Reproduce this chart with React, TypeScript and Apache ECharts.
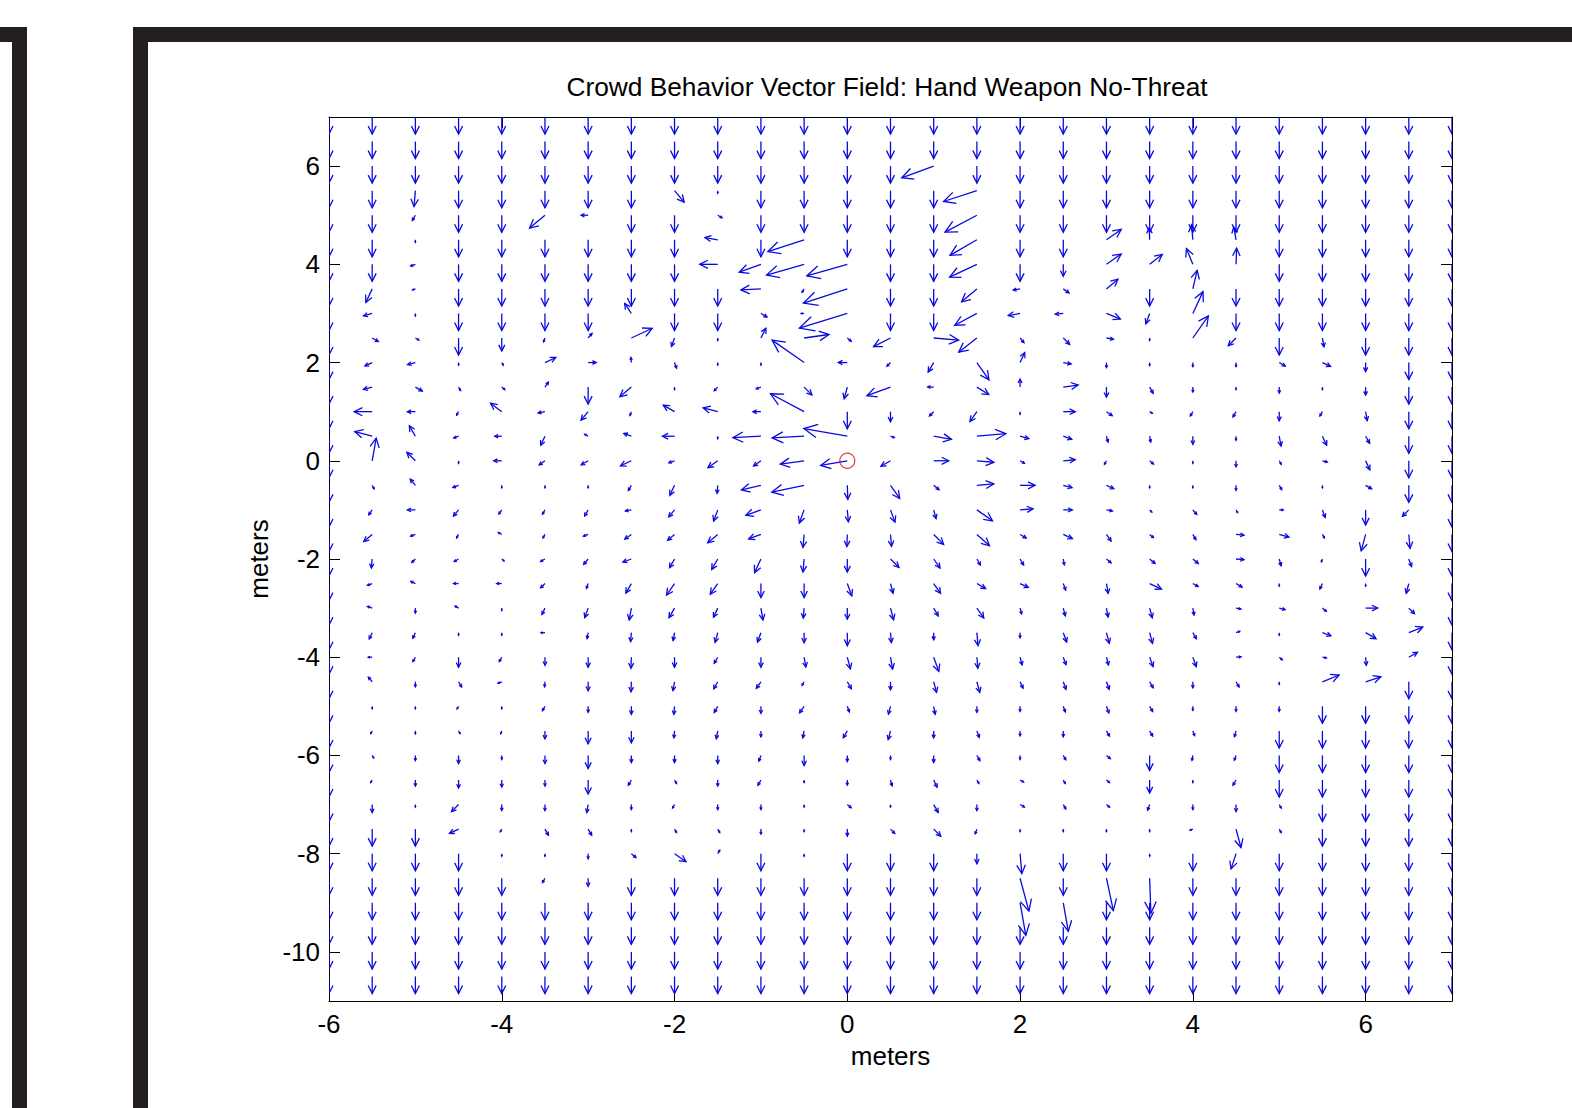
import React, { useEffect, useRef } from "react";
import * as echarts from "echarts";

// grid positions (meters)
const xs = [-6, -5.5, -5, -4.5, -4, -3.5, -3, -2.5, -2, -1.5, -1, -0.5, 0, 0.5, 1, 1.5, 2, 2.5, 3, 3.5, 4, 4.5, 5, 5.5, 6, 6.5, 7];
const ys = [7, 6.5, 6, 5.5, 5, 4.5, 4, 3.5, 3, 2.5, 2, 1.5, 1, 0.5, 0, -0.5, -1, -1.5, -2, -2.5, -3, -3.5, -4, -4.5, -5, -5.5, -6, -6.5, -7, -7.5, -8, -8.5, -9, -9.5, -10, -10.5];

const xTicks = [-6, -4, -2, 0, 2, 4, 6];
const yTicks = [-10, -8, -6, -4, -2, 0, 2, 4, 6];

// Each token: "angle/magnitude" (angle in degrees, 0 = east, 90 = north);
// "D" = straight down full arrow (270/17), "." = tiny vector
const fieldTop = [
  "D D D D D D D D D D D D D D D D D D D D D D D D D D D",
  "D D D D D D D D D D D D D D D D D D D D D D D D D D D",
  "D D D D D D D D D D D D D D 200/34 D D D D D D D D D D D D",
  "D D 265/16 D D D D D 310/15 . D D D D D 198/35 D D D D D D D D D D D",
  "D D 240/6 D D 220/20 180/7 D D 330/5 D D D D D 208/36 D D D D D D D D D D D",
  "D D . D D D D D D 170/13 D 198/38 D D D 210/31 D D 35/18 92/12 95/15 100/13 D D D D D",
  "D D 200/5 D D D D D D 180/18 200/23 196/39 196/42 D D 205/30 D 270/12 35/18 38/16 112/17 88/16 D D D D D",
  "D 245/15 200/3 D D D D D D D 183/20 240/4 198/46 D D 220/20 190/7 325/7 40/15 D 77/19 D D D D D D",
  "D 195/9 . D D D D 124/12 D D 330/7 180/3 197/50 D D 208/25 190/12 185/8 338/15 250/11 65/24 D D D D D D",
  "D 330/7 330/4 D 270/13 250/4 50/6 25/23 250/9 . 63/11 8/25 320/5 207/19 355/25 218/23 310/6 315/9 350/7 . 55/27 225/11 D 280/9 D D D",
  "D 205/8 195/8 . 300/3 25/12 0/8 95/5 290/6 . . 145/39 180/9 225/5 240/11 305/21 65/11 350/8 270/5 270/3 270/4 270/4 330/7 335/9 270/9 D D",
  "D 195/9 330/8 300/4 320/4 55/6 D 220/15 . 225/5 200/5 315/11 255/12 200/25 180/6 328/14 90/8 8/15 270/10 300/7 270/5 . 270/6 . 270/8 D D",
];
const fieldMid = [
  "D 180/18 180/8 240/4 143/14 190/7 230/11 250/4 150/13 165/15 180/8 152/38 D 270/10 225/6 235/12 . 0/12 325/7 330/3 240/5 240/6 270/9 240/5 280/9 D D",
  "D 165/18 120/12 200/5 180/7 245/10 150/4 160/8 180/12 . 183/28 183/32 170/44 340/4 350/18 5/29 345/9 340/9 285/6 280/6 270/8 270/4 280/10 295/10 300/8 D D",
  "D 80/23 135/12 . 180/8 215/7 210/8 205/12 200/6 215/12 215/9 188/24 190/27 210/11 0/15 355/17 330/5 5/12 240/4 320/5 . 270/6 300/4 345/5 295/10 D D",
  "D 300/4 130/8 200/6 . . . 240/6 245/11 265/8 193/20 192/33 272/14 305/16 320/7 5/17 0/15 345/9 335/8 . . 270/5 300/5 . 330/7 D D",
  "D 235/6 180/8 230/8 235/5 240/5 240/7 190/6 230/9 250/12 200/16 250/14 275/12 290/13 285/9 325/19 5/13 0/9 350/6 315/3 310/6 300/3 0/4 290/8 270/15 225/9 D",
  "D 220/11 200/5 240/4 150/4 240/4 200/5 215/8 220/9 220/13 200/13 265/13 268/12 275/12 315/14 318/17 330/7 335/10 305/8 320/5 300/6 355/8 345/10 300/4 255/17 275/14 D",
  "D 265/9 225/5 210/5 320/3 210/5 230/7 200/9 240/10 240/12 245/15 265/13 270/13 315/12 305/11 300/7 300/7 280/6 320/6 320/7 320/7 355/8 285/7 250/3 270/17 290/8 D",
  "D 200/5 155/5 180/5 180/5 225/6 250/5 240/11 235/14 235/13 270/14 270/14 290/13 285/10 305/12 330/10 335/9 290/7 280/10 335/13 330/6 330/7 . 245/6 . 255/10 D",
  "D 160/5 270/5 150/4 . 245/7 250/10 260/12 240/11 245/10 280/12 265/10 270/11 285/12 300/9 305/12 285/6 285/8 280/9 285/10 280/7 350/5 345/6 320/5 0/12 315/8 D",
  "D 245/7 245/6 . . 180/4 260/6 265/9 260/8 255/10 250/10 270/10 270/13 275/10 270/7 275/13 270/5 290/10 285/11 285/11 300/7 20/4 . 340/9 330/12 22/15 D",
  "D 180/4 240/5 270/10 240/5 270/8 270/10 268/11 270/10 240/7 270/10 280/10 285/12 280/12 290/15 275/11 285/8 290/8 285/8 290/10 290/10 5/5 320/4 350/4 275/8 30/10 D",
  "D 130/6 270/5 300/6 200/4 265/5 270/9 268/10 260/9 240/8 235/8 240/4 300/8 270/8 285/11 285/11 295/7 290/8 290/8 300/7 270/6 300/6 . 22/18 18/16 D D",
];
const fieldLow = [
  "D . . 240/3 . 240/5 270/6 270/8 265/8 240/7 270/7 235/8 290/6 255/8 280/8 270/6 270/5 290/6 290/7 300/6 270/4 270/5 270/5 D D D D",
  "D 240/3 270/3 300/3 250/3 270/8 270/13 270/12 265/7 260/8 270/6 260/7 240/8 255/9 270/7 290/7 270/5 270/6 300/6 300/6 290/5 255/6 D D D D D",
  "D 300/3 270/5 270/8 270/4 270/8 270/13 270/7 270/7 270/8 250/6 270/10 270/6 270/4 270/7 300/6 270/4 300/5 320/5 270/15 260/5 250/5 D D D D D",
  "D 240/3 270/6 270/8 270/7 270/6 270/14 240/6 300/4 270/6 240/6 . 270/5 285/6 295/8 300/4 330/4 300/4 320/4 270/13 . 240/6 D D D D D",
  "D 270/8 . 225/10 270/6 270/6 260/8 270/5 240/4 270/5 270/5 . 320/5 . 300/9 270/6 330/5 300/5 320/4 250/6 270/5 270/7 300/4 D D D D",
  "D D D 205/10 240/3 300/7 300/7 . 300/4 300/4 270/5 . 270/7 315/6 315/10 250/5 . . . . 200/3 285/19 300/4 D D D D",
  "D D D D . . 270/5 320/6 325/14 60/4 D . D D D 270/10 275/20 D D . D 252/16 D D D D D",
  "D D D D D 240/5 270/8 D D D D D D D D D 285/34 D 282/33 272/35 D D D D D D D",
  "D D D D D D D D D D D D D D D D 280/33 280/29 D D D D D D D D D",
  "D D D D D D D D D D D D D D D D D D D D D D D D D D D",
  "D D D D D D D D D D D D D D D D D D D D D D D D D D D",
  "D D D D D D D D D D D D D D D D D D D D D D D D D D D",
];

const markerPoint = [[0, 0]];

const TITLE = "Crowd Behavior Vector Field: Hand Weapon No-Threat";
const FONT = "'Liberation Sans', Arial, Helvetica, sans-serif";
const BLUE = "#0a0ae0";
const FRAME = "#231f20";

function parseTok(tok: string): [number, number] {
  if (tok === "D") return [270, 17];
  if (tok === ".") return [270, 2.5];
  const [a, l] = tok.split("/").map(Number);
  return [a, l];
}

export default function App() {
  const ref = useRef<HTMLDivElement>(null);
  useEffect(() => {
    const chart = echarts.init(ref.current!, null, { renderer: "svg" });
    const rows = [...fieldTop, ...fieldMid, ...fieldLow];
    const data: number[][] = [];
    rows.forEach((row, ri) => {
      row.trim().split(/\s+/).forEach((tok, ci) => {
        if (ci >= xs.length) return;
        const [a, l] = parseTok(tok);
        data.push([xs[ci], ys[ri], a, l]);
      });
    });

    const tickStyle = { color: "#000", width: 1 };
    const axisFont = { color: "#000", fontSize: 26, fontFamily: FONT };

    chart.setOption({
      animation: false,
      backgroundColor: "#ffffff",
      grid: { left: 329, top: 117, width: 1123, height: 884, containLabel: false },
      xAxis: [
        {
          type: "value", min: -6, max: 7, position: "bottom",
          axisLine: { show: true, onZero: false, lineStyle: tickStyle },
          axisTick: { show: true, inside: true, length: 11, customValues: xTicks, lineStyle: tickStyle },
          axisLabel: { show: true, customValues: xTicks, margin: 10, ...axisFont },
          splitLine: { show: false },
          name: "meters", nameLocation: "middle", nameGap: 42,
          nameTextStyle: { ...axisFont },
        },
        {
          type: "value", min: -6, max: 7, position: "top",
          axisLine: { show: true, onZero: false, lineStyle: tickStyle },
          axisTick: { show: true, inside: true, length: 11, customValues: xTicks, lineStyle: tickStyle },
          axisLabel: { show: false },
          splitLine: { show: false },
        },
      ],
      yAxis: [
        {
          type: "value", min: -11, max: 7, position: "left",
          axisLine: { show: true, onZero: false, lineStyle: tickStyle },
          axisTick: { show: true, inside: true, length: 11, customValues: yTicks, lineStyle: tickStyle },
          axisLabel: { show: true, customValues: yTicks, margin: 9, ...axisFont },
          splitLine: { show: false },
          name: "meters", nameLocation: "middle", nameGap: 50,
          nameTextStyle: { ...axisFont },
        },
        {
          type: "value", min: -11, max: 7, position: "right",
          axisLine: { show: true, onZero: false, lineStyle: tickStyle },
          axisTick: { show: true, inside: true, length: 11, customValues: yTicks, lineStyle: tickStyle },
          axisLabel: { show: false },
          splitLine: { show: false },
        },
      ],
      graphic: [
        { type: "rect", shape: { x: 0, y: 27, width: 27, height: 15 }, style: { fill: FRAME } },
        { type: "rect", shape: { x: 12, y: 27, width: 15, height: 1081 }, style: { fill: FRAME } },
        { type: "rect", shape: { x: 133, y: 27, width: 1439, height: 15 }, style: { fill: FRAME } },
        { type: "rect", shape: { x: 133, y: 27, width: 15, height: 1081 }, style: { fill: FRAME } },
        {
          type: "text", x: 887, y: 87,
          style: {
            text: TITLE, fill: "#000", fontSize: 26.3, fontFamily: FONT,
            align: "center", verticalAlign: "middle", textAlign: "center", textVerticalAlign: "middle",
          },
        },
      ],
      series: [
        {
          type: "custom",
          coordinateSystem: "cartesian2d",
          xAxisIndex: 0, yAxisIndex: 0,
          clip: true,
          silent: true,
          data,
          renderItem: (params: any, api: any) => {
            const x = api.value(0), y = api.value(1), ang = api.value(2), len = api.value(3);
            const p = api.coord([x, y]);
            const unit = api.size([0, 0.5])[1] / 24.5;
            const L = len * unit;
            const r = (ang * Math.PI) / 180;
            const ux = Math.cos(r), uy = -Math.sin(r);
            const tip = [p[0] + ux * L, p[1] + uy * L];
            const hl = L <= 17 ? 0.47 * L : 8 + 0.2 * (L - 17);
            const hw = 0.5 * hl;
            const bx = tip[0] - ux * hl, by = tip[1] - uy * hl;
            const px = -uy, py = ux;
            const st = { stroke: BLUE, lineWidth: 1.3, fill: "none" };
            return {
              type: "group",
              children: [
                { type: "polyline", shape: { points: [p, tip] }, style: st },
                { type: "polyline", shape: { points: [[bx + px * hw, by + py * hw], tip, [bx - px * hw, by - py * hw]] }, style: st },
              ],
            };
          },
          z: 2,
        },
        {
          type: "scatter",
          data: markerPoint,
          symbol: "circle",
          symbolSize: 15,
          silent: true,
          itemStyle: { color: "rgba(0,0,0,0)", borderColor: "#e01010", borderWidth: 1.2 },
          z: 3,
        },
      ],
    });
    return () => chart.dispose();
  }, []);
  return (
    <div
      ref={ref}
      style={{ position: "fixed", left: 0, top: 0, width: 1572, height: 1108, background: "#fff" }}
    />
  );
}
